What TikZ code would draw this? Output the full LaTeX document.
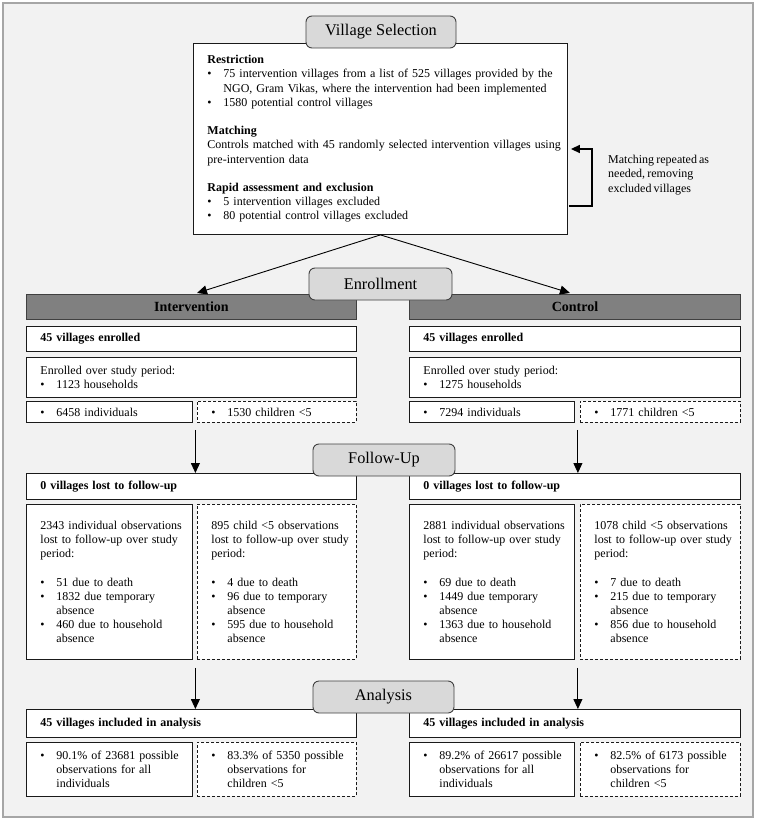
\documentclass[tikz,border=0pt]{standalone}
\usepackage{fontspec}
\setmainfont[WordSpace=0.72]{Liberation Serif}
\newfontfamily\tabfont{Liberation Serif}
\usetikzlibrary{arrows.meta,calc}
\definecolor{bgc}{HTML}{F2F2F2}
\definecolor{framec}{HTML}{A6A6A6}
\definecolor{tabfill}{HTML}{D9D9D9}
\definecolor{tabdraw}{HTML}{404040}
\definecolor{headfill}{HTML}{808080}
\definecolor{boxdraw}{HTML}{1A1A1A}
\newcommand{\bl}[1]{\mbox{\makebox[16pt][l]{\textbullet}#1}}
\newcommand{\il}[1]{\mbox{\hspace*{16pt}#1}}
\newcommand{\pl}[1]{\mbox{#1}}
\begin{document}
\begin{tikzpicture}[x=1pt,y=1pt,
  box/.style={draw=boxdraw, fill=white, line width=0.9pt, anchor=north west,
    inner xsep=14pt, inner ysep=0pt, align=left,
    font=\fontsize{12}{14.2}\selectfont},
  dbox/.style={box, dash pattern=on 3pt off 2pt},
  head/.style={draw=tabdraw, fill=headfill, line width=0.9pt, anchor=north west,
    inner sep=0pt, font=\fontsize{14}{16}\selectfont\bfseries},
  tab/.style={draw=tabdraw, fill=tabfill, line width=0.9pt, rounded corners=6pt,
    inner sep=0pt, font=\tabfont\fontsize{16.3}{18}\selectfont},
  conn/.style={line width=0.9pt, -{Triangle[length=10pt,width=9pt]}},
  note/.style={anchor=west, inner sep=0pt, align=left, font=\fontsize{12}{14.2}\selectfont}
]
\useasboundingbox (0,0) rectangle (760,-821);
\draw[framec, fill=bgc, line width=1.2pt] (3,-3) rectangle (753,-817);

% ---------- Village selection ----------
\node[box, minimum width=374pt, minimum height=191pt, text width=346pt] (vs) at (193,-43) {%
\pl{\textbf{Restriction}}\\
\bl{75 intervention villages from a list of 525 villages provided by the}\\
\il{NGO, Gram Vikas, where the intervention had been implemented}\\
\bl{1580 potential control villages}\\[14.2pt]
\pl{\textbf{Matching}}\\
\pl{Controls matched with 45 randomly selected intervention villages using}\\
\pl{pre-intervention data}\\[14.2pt]
\pl{\textbf{Rapid assessment and exclusion}}\\
\bl{5 intervention villages excluded}\\
\bl{80 potential control villages excluded}};
\node[tab, minimum width=150pt, minimum height=32pt] (tvs) at (381,-32) {Village\ Selection};

\draw[line width=1.4pt, -{Triangle[length=9pt,width=8pt]}]
  ($(vs.south east)+(1,29)$) -- ++(23,0) |- ($(vs.north east)+(3,-106)$);
\node[note] (rep) at (608,-175) {Matching repeated as\\needed, removing\\excluded villages};

% ---------- Enrollment ----------
\node[head, minimum width=330pt, minimum height=25pt] (hL) at (26,-294) {Intervention};
\node[head, minimum width=331pt, minimum height=25pt] (hR) at (409,-294) {Control};
\draw[conn] (vs.south) -- ($(hL.north west)+(171,1)$);
\draw[conn] (vs.south) -- ($(hR.north west)+(161,1)$);
\node[tab, minimum width=143pt, minimum height=32pt] (ten) at (380.5,-284) {Enrollment};

\node[box, minimum width=330pt, minimum height=25pt, text width=302pt] (veL) at (26,-326) {\textbf{45 villages enrolled}};
\node[box, minimum width=331pt, minimum height=25pt, text width=303pt] (veR) at (409,-326) {\textbf{45 villages enrolled}};
\node[box, minimum width=330pt, minimum height=40pt, text width=302pt] (enL) at (26,-357) {%
\pl{Enrolled over study period:}\\ \bl{1123 households}};
\node[box, minimum width=331pt, minimum height=40pt, text width=303pt] (enR) at (409,-357) {%
\pl{Enrolled over study period:}\\ \bl{1275 households}};
\node[box, minimum width=166pt, minimum height=21pt, text width=138pt] (inL) at (26,-401) {\bl{6458 individuals}};
\node[dbox, minimum width=159pt, minimum height=21pt, text width=131pt] (chL) at (197,-401) {\bl{1530 children <5}};
\node[box, minimum width=165pt, minimum height=21pt, text width=137pt] (inR) at (409,-401) {\bl{7294 individuals}};
\node[dbox, minimum width=160pt, minimum height=21pt, text width=132pt] (chR) at (580,-401) {\bl{1771 children <5}};

% ---------- Follow-up ----------
\node[box, minimum width=330pt, minimum height=26pt, text width=302pt] (fvL) at (26,-473) {\textbf{0 villages lost to follow-up}};
\node[box, minimum width=331pt, minimum height=26pt, text width=303pt] (fvR) at (409,-473) {\textbf{0 villages lost to follow-up}};
\node[tab, minimum width=142pt, minimum height=32pt] (tfu) at (384,-460) {Follow-Up};

\coordinate (a1L) at ($(inL.south east)+(2.5,-7)$);
\coordinate (a1R) at ($(inR.south east)+(3,-7)$);
\draw[conn] (a1L) -- (a1L |- fvL.north);
\draw[conn] (a1R) -- (a1R |- fvR.north);

\node[box, minimum width=166pt, minimum height=155pt, text width=138pt] (foL) at (26,-504) {%
\pl{2343 individual observations}\\
\pl{lost to follow-up over study}\\
\pl{period:}\\[14.2pt]
\bl{51 due to death}\\
\bl{1832 due temporary}\\
\il{absence}\\
\bl{460 due to household}\\
\il{absence}};
\node[dbox, minimum width=159pt, minimum height=155pt, text width=131pt] (fcL) at (197,-504) {%
\pl{895 child <5 observations}\\
\pl{lost to follow-up over study}\\
\pl{period:}\\[14.2pt]
\bl{4 due to death}\\
\bl{96 due to temporary}\\
\il{absence}\\
\bl{595 due to household}\\
\il{absence}};
\node[box, minimum width=165pt, minimum height=155pt, text width=137pt] (foR) at (409,-504) {%
\pl{2881 individual observations}\\
\pl{lost to follow-up over study}\\
\pl{period:}\\[14.2pt]
\bl{69 due to death}\\
\bl{1449 due temporary}\\
\il{absence}\\
\bl{1363 due to household}\\
\il{absence}};
\node[dbox, minimum width=160pt, minimum height=155pt, text width=132pt] (fcR) at (580,-504) {%
\pl{1078 child <5 observations}\\
\pl{lost to follow-up over study}\\
\pl{period:}\\[14.2pt]
\bl{7 due to death}\\
\bl{215 due to temporary}\\
\il{absence}\\
\bl{856 due to household}\\
\il{absence}};

% ---------- Analysis ----------
\node[box, minimum width=330pt, minimum height=28pt, text width=302pt] (avL) at (26,-709) {\textbf{45 villages included in analysis}};
\node[box, minimum width=331pt, minimum height=28pt, text width=303pt] (avR) at (409,-709) {\textbf{45 villages included in analysis}};
\node[tab, minimum width=141pt, minimum height=32pt] (tan) at (383.5,-697) {Analysis};

\coordinate (a2L) at ($(foL.south east)+(2.5,-8)$);
\coordinate (a2R) at ($(foR.south east)+(3,-8)$);
\draw[conn] (a2L) -- (a2L |- avL.north);
\draw[conn] (a2R) -- (a2R |- avR.north);

\node[box, minimum width=166pt, minimum height=54pt, text width=138pt] (aiL) at (26,-742) {%
\bl{90.1\% of 23681 possible}\\ \il{observations for all}\\ \il{individuals}};
\node[dbox, minimum width=159pt, minimum height=54pt, text width=131pt] (acL) at (197,-742) {%
\bl{83.3\% of 5350 possible}\\ \il{observations for}\\ \il{children <5}};
\node[box, minimum width=165pt, minimum height=54pt, text width=137pt] (aiR) at (409,-742) {%
\bl{89.2\% of 26617 possible}\\ \il{observations for all}\\ \il{individuals}};
\node[dbox, minimum width=160pt, minimum height=54pt, text width=132pt] (acR) at (580,-742) {%
\bl{82.5\% of 6173 possible}\\ \il{observations for}\\ \il{children <5}};
\end{tikzpicture}
\end{document}
